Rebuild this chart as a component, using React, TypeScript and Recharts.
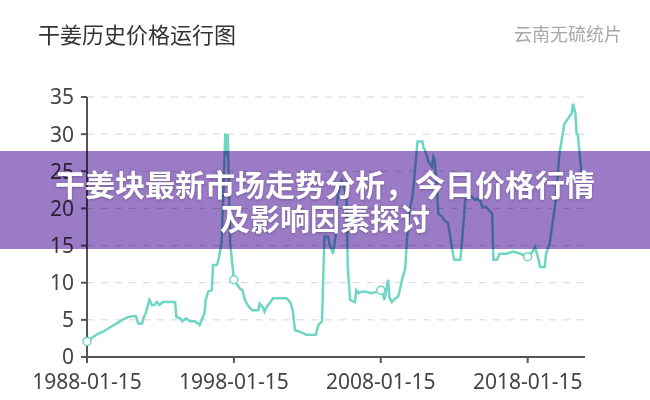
import React from "react";
import { LineChart, Line, XAxis, YAxis, CartesianGrid } from "recharts";

// price history, 云南无硫统片 (元/kg)
const dates = [
  "1988-01-15", "1988-06-15", "1988-11-15", "1989-02-15", "1989-07-15",
  "1990-01-15", "1990-06-15", "1990-11-15", "1991-03-15", "1991-05-15",
  "1991-07-15", "1991-10-15", "1991-11-15", "1992-01-15", "1992-04-15",
  "1992-06-15", "1992-08-15", "1992-10-15", "1992-12-15", "1993-03-15",
  "1994-01-15", "1994-02-15", "1994-05-15", "1994-07-15", "1994-10-15",
  "1995-01-15", "1995-05-15", "1995-08-15", "1995-09-15", "1996-01-15",
  "1996-02-15", "1996-04-15", "1996-07-15", "1996-08-15", "1996-11-15",
  "1996-12-15", "1997-03-15", "1997-05-15", "1997-06-15", "1997-07-15",
  "1997-08-15", "1997-10-15", "1998-01-15", "1998-03-15", "1998-06-15",
  "1998-08-15", "1998-10-15", "1999-01-15", "1999-04-15", "1999-09-15",
  "1999-10-15", "2000-01-15", "2000-02-15", "2000-04-15", "2000-06-15",
  "2000-09-15", "2001-08-15", "2001-11-15", "2002-01-15", "2002-03-15",
  "2002-07-15", "2002-12-15", "2003-08-15", "2003-10-15", "2004-01-15",
  "2004-02-15", "2004-03-15", "2004-06-15", "2004-07-15", "2004-10-15",
  "2004-12-15", "2005-01-15", "2005-02-15", "2005-05-15", "2005-07-15",
  "2005-09-15", "2005-10-15", "2005-12-15", "2006-04-15", "2006-05-15",
  "2006-07-15", "2006-09-15", "2007-01-15", "2007-05-15", "2007-10-15",
  "2008-01-15", "2008-03-15", "2008-04-15", "2008-06-15", "2008-07-15",
  "2008-08-15", "2008-10-15", "2009-01-15", "2009-03-15", "2009-04-15",
  "2009-07-15", "2009-09-15", "2009-10-15", "2009-12-15", "2010-01-15",
  "2010-03-15", "2010-05-15", "2010-07-15", "2010-11-15", "2010-12-15",
  "2011-01-15", "2011-04-15", "2011-07-15", "2011-08-15", "2011-09-15",
  "2011-11-15", "2011-12-15", "2012-03-15", "2012-05-15", "2012-08-15",
  "2012-11-15", "2013-01-15", "2013-06-15", "2013-07-15", "2013-10-15",
  "2013-12-15", "2014-03-15", "2014-06-15", "2014-07-15", "2014-10-15",
  "2014-12-15", "2015-03-15", "2015-08-15", "2015-09-15", "2015-12-15",
  "2016-02-15", "2016-08-15", "2017-01-15", "2017-07-15", "2018-01-15",
  "2018-05-15", "2018-07-15", "2018-10-15", "2018-11-15", "2019-03-15",
  "2019-04-15", "2019-07-15", "2019-12-15", "2020-03-15", "2020-07-15",
  "2020-10-15", "2021-01-15", "2021-02-15", "2021-04-15", "2021-05-15",
  "2021-06-15", "2021-08-15", "2021-09-15",
];

const prices = [
  2.1, 2.7, 3.2, 3.4, 3.9,
  4.5, 5.0, 5.4, 5.5, 5.5,
  4.5, 4.5, 5.2, 5.9, 7.7,
  7.0, 7.0, 7.4, 7.0, 7.4,
  7.4, 5.4, 5.2, 4.8, 5.2,
  4.8, 4.8, 4.5, 4.3, 5.9,
  7.7, 8.8, 9.0, 12.4, 12.4,
  12.8, 15.3, 25.0, 30.1, 27.0,
  30.0, 15.3, 10.4, 9.9, 9.2,
  9.0, 7.7, 6.8, 6.3, 6.3,
  7.2, 6.6, 6.1, 6.8, 7.2,
  7.9, 7.9, 7.4, 6.3, 3.6,
  3.4, 3.0, 3.0, 4.3, 4.8,
  10.8, 16.2, 16.2, 15.3, 13.9,
  16.2, 20.2, 22.0, 23.8, 23.0,
  21.6, 12.1, 7.7, 7.4, 9.0,
  8.6, 8.8, 8.8, 8.6, 8.8,
  9.0, 8.3, 7.7, 9.5, 10.4,
  8.1, 7.4, 7.9, 8.1, 8.6,
  10.8, 11.9, 14.8, 19.3, 20.2,
  21.6, 25.2, 29.0, 29.0, 28.1,
  27.9, 26.3, 25.6, 26.9, 26.5,
  22.5, 19.3, 18.9, 18.4, 18.0,
  14.8, 13.1, 13.1, 14.8, 21.1,
  21.6, 21.6, 21.1, 21.3, 21.1,
  20.2, 20.2, 19.3, 13.1, 13.1,
  13.9, 13.9, 14.2, 13.9, 13.5,
  14.2, 14.8, 13.1, 12.1, 12.1,
  13.9, 15.3, 21.1, 27.4, 31.4,
  32.1, 32.8, 34.1, 32.8, 30.1,
  29.9, 26.5, 24.5,
];

const tickDates = ["1988-01-15", "1998-01-15", "2008-01-15", "2018-01-15"];
const markerDates = ["1988-01-15", "1998-01-15", "2008-01-15", "2018-01-15"];
const yTicks = [0, 5, 10, 15, 20, 25, 30, 35];

const LINE = "#6fd5c5";
const AXIS = "#555";

const data = dates.map((d, i) => ({ date: d, t: Date.parse(d), price: prices[i] }));

const fmtDate = (v: number) => new Date(v).toISOString().slice(0, 10);

const renderDot = (props: any) => {
  const { cx, cy, payload, index } = props;
  if (!markerDates.includes(payload.date)) return <g key={`d-${index}`} />;
  return <circle key={`d-${index}`} cx={cx} cy={cy} r={4} fill="#fff" stroke={LINE} strokeWidth={1.5} />;
};

export default function App() {
  return (
    <div
      style={{
        position: "absolute",
        left: 0,
        top: 0,
        width: 650,
        height: 400,
        background: "#fff",
        overflow: "hidden",
        fontFamily: "'Noto Sans', 'Noto Sans CJK SC', sans-serif",
      }}
    >
      <div style={{ position: "absolute", left: 38, top: 20, fontSize: 22, lineHeight: "26px", color: "#333", fontFamily: "'Noto Sans CJK SC', sans-serif" }}>
        干姜历史价格运行图
      </div>
      <div style={{ position: "absolute", right: 28, top: 22, fontSize: 18, lineHeight: "22px", color: "#a8a8a8", fontFamily: "'Noto Sans CJK SC', sans-serif" }}>
        云南无硫统片
      </div>

      <div style={{ position: "absolute", left: 0, top: 0 }}>
        <LineChart width={650} height={400} data={data} margin={{ top: 97, right: 65, bottom: 0, left: 0 }}>
          <CartesianGrid vertical={false} stroke="#d6d6d6" strokeDasharray="7 7" />
          <XAxis
            dataKey="t"
            type="number"
            scale="time"
            domain={[Date.parse("1988-01-15"), Date.parse("2021-12-10")]}
            ticks={tickDates.map((d) => Date.parse(d))}
            tickFormatter={fmtDate}
            height={43}
            stroke={AXIS}
            strokeWidth={2}
            tickSize={6}
            tickMargin={11}
            tick={{ fill: "#444", fontSize: 21 }}
          />
          <YAxis
            type="number"
            domain={[0, 35]}
            ticks={yTicks}
            width={87}
            stroke={AXIS}
            strokeWidth={2}
            tickSize={6}
            tickMargin={7}
            tick={{ fill: "#444", fontSize: 21 }}
          />
          <Line
            type="linear"
            dataKey="price"
            stroke={LINE}
            strokeWidth={2.5}
            dot={renderDot}
            activeDot={false}
            isAnimationActive={false}
          />
        </LineChart>
      </div>

      <div
        style={{
          position: "absolute",
          left: 0,
          top: 151,
          width: 650,
          height: 98,
          background: "#9b7bc6",
          mixBlendMode: "multiply",
        }}
      />
      <div
        style={{
          position: "absolute",
          left: 0,
          top: 151,
          width: 650,
          height: 98,
          display: "flex",
          flexDirection: "column",
          alignItems: "center",
          justifyContent: "center",
          color: "#fff",
          fontSize: 30,
          lineHeight: "34px",
          fontWeight: 700,
          textShadow: "0 1px 3px rgba(0,0,0,0.25)",
          fontFamily: "'Noto Sans CJK SC', sans-serif",
        }}
      >
        <div>干姜块最新市场走势分析，今日价格行情</div>
        <div>及影响因素探讨</div>
      </div>
    </div>
  );
}
